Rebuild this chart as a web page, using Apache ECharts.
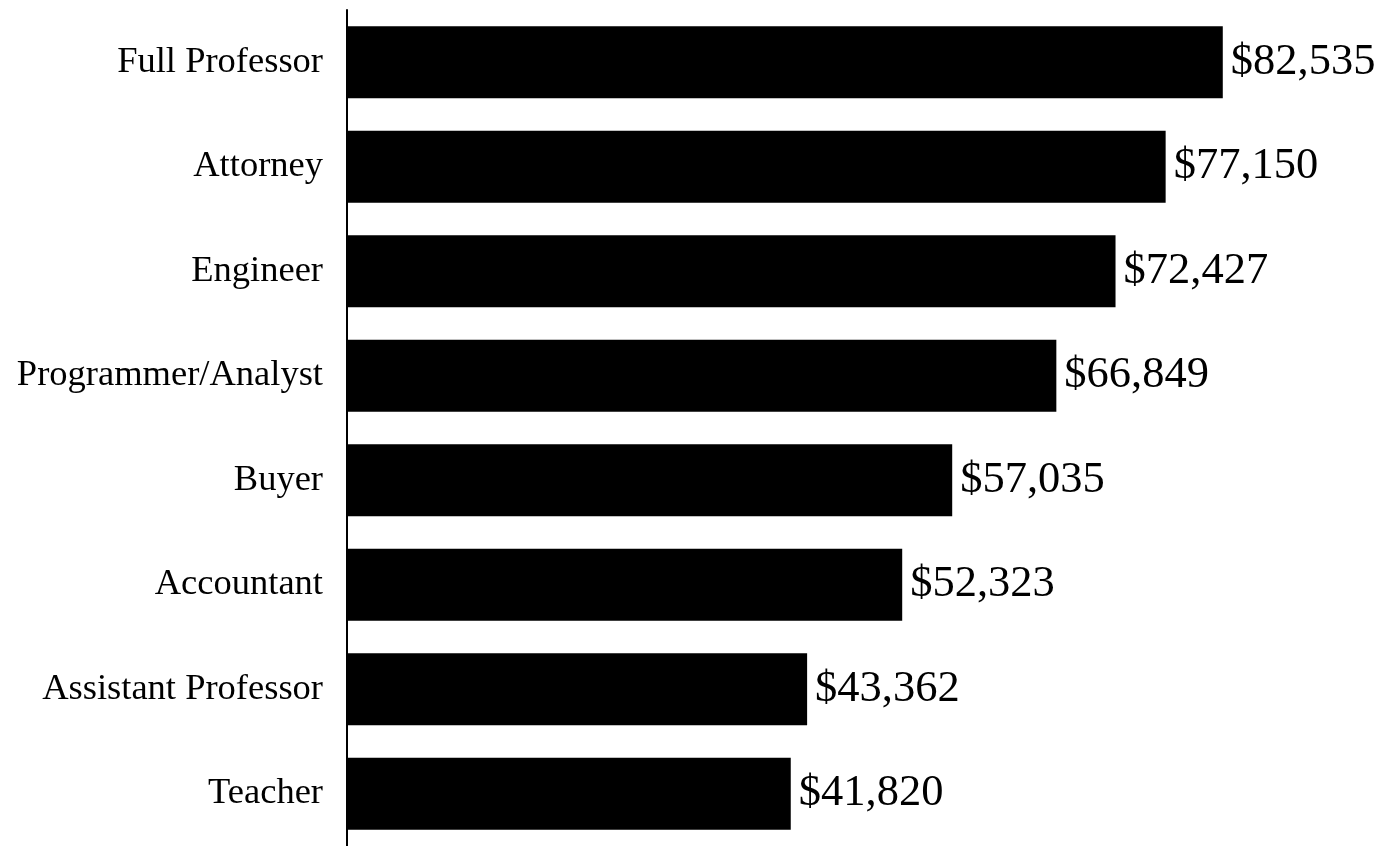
<!DOCTYPE html>
<html>
<head>
<meta charset="utf-8">
<script src="https://cdn.jsdelivr.net/npm/echarts@6/dist/echarts.min.js"></script>
<style>
html,body{margin:0;padding:0;background:#fff;}
#chart{width:1380px;height:846px;}
</style>
</head>
<body>
<div id="chart"></div>
<script>
const categories = ["Full Professor", "Attorney", "Engineer", "Programmer/Analyst", "Buyer", "Accountant", "Assistant Professor", "Teacher"];
const salaries = [82535, 77150, 72427, 66849, 57035, 52323, 43362, 41820];

const chart = echarts.init(document.getElementById('chart'));
const fmt = v => '$' + v.toLocaleString('en-US');
chart.setOption({
  animation: false,
  backgroundColor: '#fff',
  grid: { left: 347, right: 78, top: 10, height: 840 },
  xAxis: {
    type: 'value', min: 0, max: 90000,
    show: false, splitLine: { show: false }
  },
  yAxis: {
    type: 'category', data: categories, inverse: true,
    axisLine: { show: true, lineStyle: { color: '#000', width: 2 } },
    axisTick: { show: false },
    axisLabel: { color: '#000', fontFamily: 'Liberation Serif', fontSize: 36.5, margin: 24 },
    splitLine: { show: false }
  },
  series: [{
    type: 'bar',
    data: salaries,
    barWidth: 72,
    itemStyle: { color: '#000' },
    label: {
      show: true, position: 'right', distance: 8,
      color: '#000', fontFamily: 'Liberation Serif', fontSize: 44.5,
      formatter: p => fmt(p.value)
    }
  }]
});
</script>
</body>
</html>
